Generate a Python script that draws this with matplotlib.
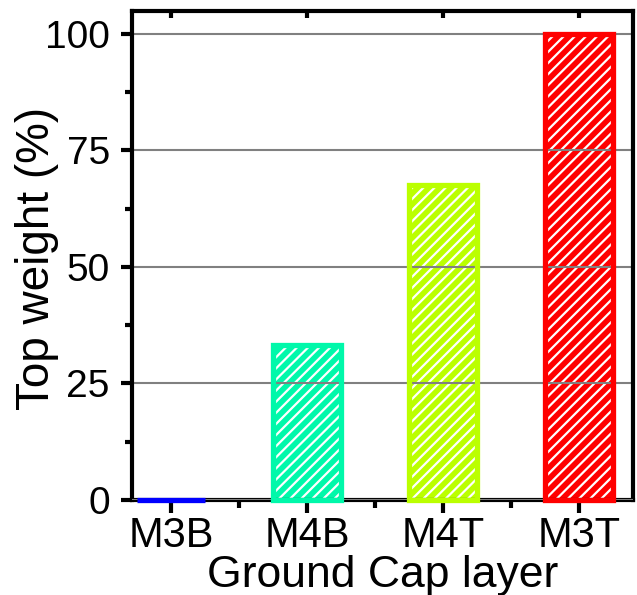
import matplotlib
matplotlib.use("Agg")
import matplotlib.pyplot as plt
from matplotlib.ticker import MultipleLocator, FixedLocator

categories = ["M3B", "M4B", "M4T", "M3T"]
values = [0.0, 33.3, 67.6, 100.0]
colors = ["#0000FF", "#00F8AA", "#BBFF00", "#FF0000"]
yticks = [0, 25, 50, 75, 100]

plt.rcParams['font.family'] = ['Liberation Sans', 'DejaVu Sans']
plt.rcParams['hatch.linewidth'] = 1.6
plt.rcParams['hatch.color'] = 'white'

W, H = 637, 595
fig = plt.figure(figsize=(W / 100, H / 100), dpi=100)
ax = fig.add_axes([132 / W, 1 - 500 / H, (633 - 132) / W, (500 - 11) / H])

x = list(range(len(categories)))
# hatched fill
ax.bar(x, values, width=0.5, color=colors, edgecolor='white', linewidth=0,
       hatch='///', zorder=1)
# gridlines
for v in yticks:
    ax.axhline(v, color='#808080', lw=1.5, zorder=4.5 if v == 0 else 2)
# outlines
outl = ax.bar(x, values, width=0.5, fill=False, edgecolor=colors,
              linewidth=3.8, zorder=5)
for p in outl:
    p.set_clip_on(False)

ax.set_xlim(-0.287, 3.397)
ax.set_ylim(0, 104.9)

ax.set_xticks(x)
ax.set_xticklabels(categories)
ax.xaxis.set_minor_locator(FixedLocator([0.5, 1.5, 2.5]))
ax.set_yticks(yticks)
ax.yaxis.set_minor_locator(MultipleLocator(12.5))

for s in ax.spines.values():
    s.set_linewidth(3)
    s.set_zorder(4)

ax.tick_params(axis='x', which='major', labelsize=30, width=3, length=9.4,
               direction='out', pad=2)
ax.tick_params(axis='y', which='major', labelsize=28, width=3, length=8,
               direction='out', pad=8)
ax.tick_params(axis='x', which='minor', width=3, length=5.8, direction='out')
ax.tick_params(axis='y', which='minor', width=3, length=5, direction='out')
ax.tick_params(axis='x', which='major', top=True, labeltop=False)
ax.tick_params(axis='x', which='minor', top=False)
ax.tick_params(axis='y', which='both', right=False)

for t in ax.xaxis.get_major_ticks():
    t.tick2line.set_marker(3)  # TICKDOWN (inward at top)
    t.tick2line.set_markersize(5)

ax.set_xlabel("Ground Cap layer", fontsize=32)
ax.xaxis.set_label_coords(0.501, -0.113)
ax.set_ylabel("Top weight (%)", fontsize=33)
ax.yaxis.set_label_coords(-0.146, 0.493)

fig.savefig("out.png", dpi=100)
